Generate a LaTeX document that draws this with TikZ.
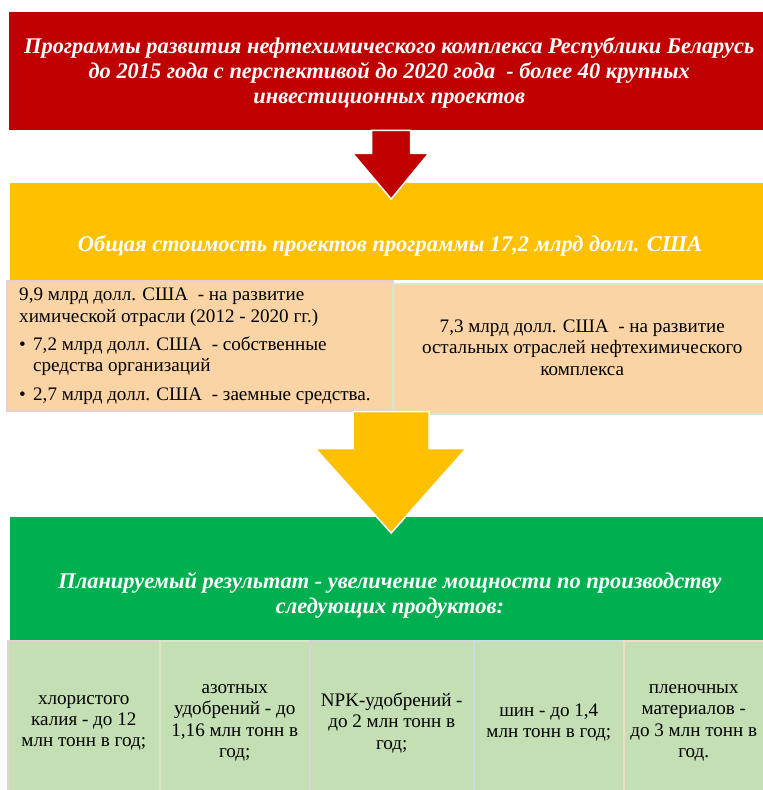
\documentclass[tikz,border=0pt]{standalone}
\usepackage{fontspec}
\setmainfont{Liberation Serif}
\usetikzlibrary{calc}

\definecolor{progred}{HTML}{C00000}
\definecolor{costyellow}{HTML}{FFC000}
\definecolor{resgreen}{HTML}{00B050}
\definecolor{peach}{HTML}{FBD4A6}
\definecolor{paleleaf}{HTML}{C4DFB3}
\definecolor{edgepink}{HTML}{E8CFD3}
\definecolor{edgesage}{HTML}{D9E5C9}
\definecolor{edgegray}{HTML}{D3D6D8}
\definecolor{edgeblue}{HTML}{C9DDE0}
\definecolor{edgepeach}{HTML}{F6D8C6}

\newcommand{\titlefont}{\fontsize{22.4}{25.3}\selectfont\bfseries\itshape}
\newcommand{\bodyfont}{\fontsize{19.1}{21.3}\selectfont}

\tikzset{
  panel/.style={rectangle, inner sep=0pt, anchor=north west, draw=none},
  titletext/.style={text=white, font=\titlefont, align=center, inner sep=0pt},
  bodytext/.style={text=black, font=\bodyfont, inner sep=0pt},
  fundbox/.style={panel, fill=peach, draw=#1, line width=1.5pt},
  productcell/.style={panel, fill=paleleaf, draw=#1, line width=1.5pt,
    minimum height=150pt},
  celltext/.style={bodytext, align=center, yshift=-7pt},
  blockarrow/.style={fill=#1, draw=white, line width=1.5pt, line join=miter},
}

\begin{document}
\begin{tikzpicture}[x=1pt, y=-1pt]
\useasboundingbox (0,0) rectangle (763,790);

% programme header
\node[panel, fill=progred, minimum width=754pt, minimum height=118pt] (prog) at (9,12) {};
\node[titletext] (progtitle) at ($(prog.center)+(3,1.5)$)
  {Программы развития нефтехимического комплекса Республики Беларусь\\
   до 2015 года с перспективой до 2020 года\ \ - более 40 крупных\\
   инвестиционных проектов};

% total cost band
\node[panel, fill=costyellow, minimum width=753pt, minimum height=97pt] (cost) at (10,183) {};
\node[titletext] (costtitle) at (390,246)
  {Общая стоимость проектов программы 17,2 млрд долл. США};

% breakdown of the cost
\node[fundbox=edgepink, minimum width=386pt, minimum height=130pt] (chem) at (6,280) {};
\node[fundbox=edgesage, minimum width=371pt, minimum height=130pt] (rest) at (392,283) {};

\node[bodytext, anchor=north west, align=left] (chemtext) at (19,288)
  {9,9 млрд долл. США\ \ - на развитие\\
   химической отрасли (2012 - 2020 гг.)\\[7pt]
   \makebox[14pt][l]{•}7,2 млрд долл. США\ \ - собственные\\
   \hspace*{14pt}средства организаций\\[7pt]
   \makebox[14pt][l]{•}2,7 млрд долл. США\ \ - заемные средства.};

\node[bodytext, align=center] (resttext) at ($(rest.center)+(4,-1)$)
  {7,3 млрд долл. США\ \ - на развитие\\
   остальных отраслей нефтехимического\\
   комплекса};

% planned result band
\node[panel, fill=resgreen, minimum width=753pt, minimum height=123pt] (result) at (10,517) {};
\node[titletext] (resulttitle) at (390,595)
  {Планируемый результат - увеличение мощности по производству\\
   следующих продуктов:};

% product cells
\node[productcell=edgepink,  minimum width=152pt] (potash) at (7,640) {};
\node[productcell=edgesage,  minimum width=150pt] (nitro) at (159,640) {};
\node[productcell=edgegray,  minimum width=164pt] (npk) at (309,640) {};
\node[productcell=edgeblue,  minimum width=150pt] (tyres) at (473,640) {};
\node[productcell=edgepeach, minimum width=140pt] (film) at (623,640) {};

\node[celltext] (potashtext) at (potash.center) {хлористого\\ калия - до 12\\ млн тонн в год;};
\node[celltext] (nitrotext)  at (nitro.center)  {азотных\\ удобрений - до\\ 1,16 млн тонн в\\ год;};
\node[celltext] (npktext)    at (npk.center)    {NPK-удобрений -\\ до 2 млн тонн в\\ год;};
\node[celltext] (tyrestext)  at (tyres.center)  {шин - до 1,4\\ млн тонн в год;};
\node[celltext] (filmtext)   at (film.center)   {пленочных\\ материалов -\\ до 3 млн тонн в\\ год.};

% block arrows between the stages
\draw[blockarrow=progred]
  ($(prog.south)+(-14.5,0)$) -- ++(39,0) -- ++(0,23) -- ++(18,0)
  -- ($(cost.north)+(4.5,16)$)
  -- ($(prog.south)+(-33.5,23)$) -- ++(19,0) -- cycle;

\draw[blockarrow=costyellow]
  ($(chem.south -| result.north)+(-33.5,0)$) -- ++(76,0) -- ++(0,37) -- ++(37,0)
  -- ($(result.north)+(4.5,16)$)
  -- ($(chem.south -| result.north)+(-71.5,37)$) -- ++(38,0) -- cycle;
\end{tikzpicture}
\end{document}
